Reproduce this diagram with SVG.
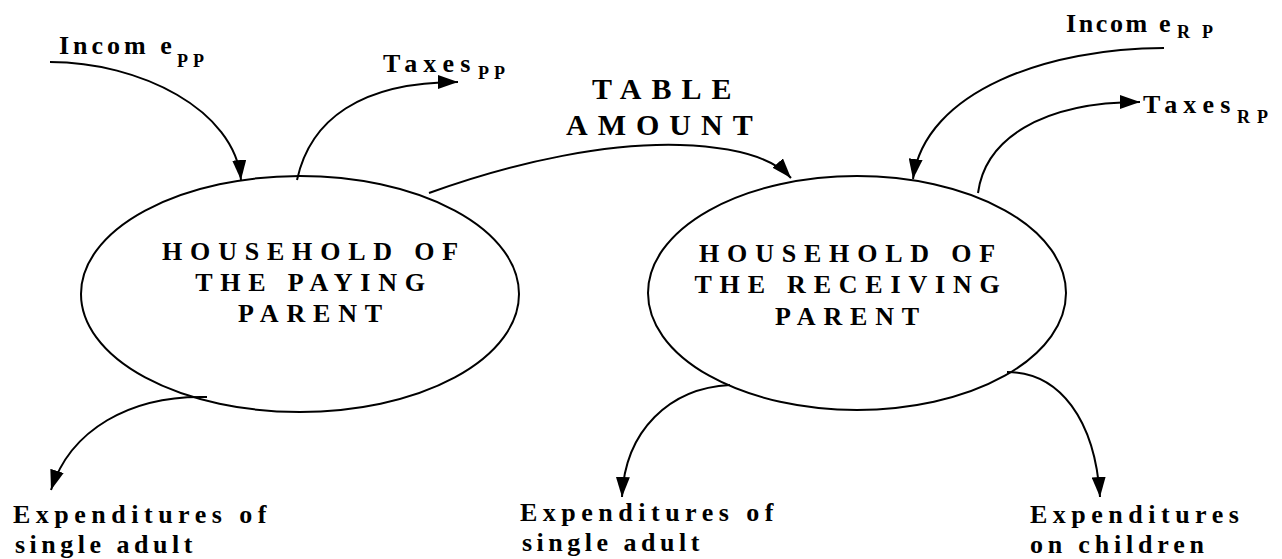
<svg xmlns="http://www.w3.org/2000/svg" width="1282" height="559" viewBox="0 0 1282 559">
<style>
  .t { font-family: "Liberation Serif", "Times New Roman", Times, serif; font-weight: 700; fill: #000; }
  .m { font-size: 26px; }
  .big { font-size: 30px; letter-spacing: 10px; }
  .sub { font-size: 18px; }
  .node { fill: #fff; stroke: #000; stroke-width: 2; }
  .lbl { font-size: 26px; letter-spacing: 7.8px; text-anchor: middle; }
  .c { fill: none; stroke: #000; stroke-width: 2; marker-end: url(#ah); }
</style>
<defs>
  <marker id="ah" markerUnits="userSpaceOnUse" markerWidth="20" markerHeight="14" refX="20" refY="7" orient="auto">
    <path d="M0,0 L20,7 L0,14 Z" fill="#000"/>
  </marker>
</defs>
<rect width="1282" height="559" fill="#fff"/>

<g id="node-paying" font-family="Liberation Serif, serif">
  <ellipse class="node" cx="300" cy="294" rx="219" ry="118"/>
  <text class="t lbl" x="314" y="260">HOUSEHOLD OF</text>
  <text class="t lbl" x="314" y="291">THE PAYING</text>
  <text class="t lbl" x="314" y="322">PARENT</text>
</g>

<g id="node-receiving" font-family="Liberation Serif, serif">
  <ellipse class="node" cx="857" cy="293" rx="209" ry="117"/>
  <text class="t lbl" x="851" y="262">HOUSEHOLD OF</text>
  <text class="t lbl" x="851" y="293">THE RECEIVING</text>
  <text class="t lbl" x="851" y="325">PARENT</text>
</g>

<g id="connectors">
  <path class="c" d="M50,62 C140,62 235,110 241,180"/>
  <path class="c" d="M297,180 C310,120 360,82 458,82"/>
  <path class="c" d="M429,193 C520,160 610,143 680,145 C740,147 775,160 791,178"/>
  <path class="c" d="M1164,48 C1050,48 925,90 913,179"/>
  <path class="c" d="M978,193 C985,140 1040,102 1140,102"/>
  <path class="c" d="M207,397 C130,395 70,430 51,490"/>
  <path class="c" d="M730,385 C670,388 625,430 622,497"/>
  <path class="c" d="M1007,372 C1060,372 1095,420 1100,497"/>
</g>

<g id="label-income-pp" font-family="Liberation Serif, serif">
  <text class="t m" x="59" y="54" style="letter-spacing:4px">Incom e</text>
  <text class="t sub" x="177" y="67" style="letter-spacing:5px">PP</text>
</g>
<g id="label-taxes-pp" font-family="Liberation Serif, serif">
  <text class="t m" x="383" y="72" style="letter-spacing:6.2px">Taxes</text>
  <text class="t sub" x="478" y="79" style="letter-spacing:5px">PP</text>
</g>
<g id="label-table-amount" font-family="Liberation Serif, serif">
  <text class="t big" x="592" y="99">TABLE</text>
  <text class="t big" x="566" y="135">AMOUNT</text>
</g>
<g id="label-income-rp" font-family="Liberation Serif, serif">
  <text class="t m" x="1066" y="32" style="letter-spacing:2.6px">Incom e</text>
  <text class="t sub" x="1177" y="38" style="letter-spacing:12px">RP</text>
</g>
<g id="label-taxes-rp" font-family="Liberation Serif, serif">
  <text class="t m" x="1143" y="113" style="letter-spacing:6.2px">Taxes</text>
  <text class="t sub" x="1237" y="123" style="letter-spacing:7px">RP</text>
</g>
<g id="label-exp-single-pp" font-family="Liberation Serif, serif">
  <text class="t m" x="13" y="523" style="letter-spacing:5.5px">Expenditures of</text>
  <text class="t m" x="15" y="553" style="letter-spacing:4.5px">single adult</text>
</g>
<g id="label-exp-single-rp" font-family="Liberation Serif, serif">
  <text class="t m" x="520" y="521" style="letter-spacing:5.5px">Expenditures of</text>
  <text class="t m" x="522" y="551" style="letter-spacing:4.5px">single adult</text>
</g>
<g id="label-exp-children" font-family="Liberation Serif, serif">
  <text class="t m" x="1030" y="523" style="letter-spacing:5.5px">Expenditures</text>
  <text class="t m" x="1030" y="553" style="letter-spacing:4.8px">on children</text>
</g>
</svg>
